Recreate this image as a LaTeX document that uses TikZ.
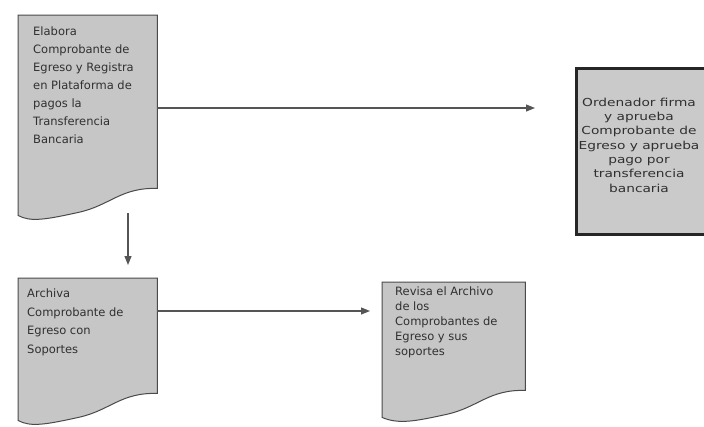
\documentclass[tikz,border=0pt]{standalone}
\usepackage{fontspec}
\setmainfont{DejaVu Sans}
\newfontfamily\boxfont[FakeStretch=1.25]{DejaVu Sans}
\usetikzlibrary{calc,arrows.meta}
\definecolor{docfill}{HTML}{C6C6C6}
\definecolor{boxfill}{HTML}{CACACA}
\definecolor{linegray}{HTML}{4A4A4A}
\definecolor{arrowgray}{HTML}{555555}
\definecolor{txtgray}{HTML}{303030}
\newcommand{\docoutline}[1]{%
  \draw[docline] (#1.north west) -- (#1.north east) -- (#1.south east)
    .. controls ($(#1.south east)+(-37,-1)$) and ($(#1.south east)+(-47,17)$) .. ($(#1.south east)+(-79,24)$)
    .. controls ($(#1.south east)+(-111,31)$) and ($(#1.south east)+(-127,34)$) .. ($(#1.south west)+(0,27)$)
    -- cycle;}
\begin{document}
\begin{tikzpicture}[x=1pt,y=-1pt,
  docgeom/.style={draw=none, rectangle, inner sep=0pt, anchor=north west},
  docline/.style={draw=linegray, fill=docfill, line width=1pt},
  doctext/.style={anchor=north west, inner sep=0pt, align=left, text=txtgray},
  arr/.style={draw=arrowgray, line width=1.1pt, -{Triangle[length=9pt,width=7pt]}},
  bigbox/.style={draw=black!85, fill=boxfill, line width=2.5pt, rectangle, anchor=north west, inner sep=0pt}]
\useasboundingbox (0,0) rectangle (704,426);
\clip (0,0) rectangle (704,426);
\fill[white] (0,0) rectangle (704,426);
% geometry of the documents
\node[docgeom, minimum width=139pt, minimum height=173pt] (d1) at (18,15) {};
\node[docgeom, minimum width=139pt, minimum height=115pt] (d3) at (18,278) {};
\node[docgeom, minimum width=143pt, minimum height=108pt] (d4) at (382,282) {};
\docoutline{d1}
\docoutline{d3}
\docoutline{d4}
% right box
\node[bigbox, minimum width=140pt, minimum height=166pt] (b2) at (575,67) {};
% texts
\node[doctext, font=\fontsize{11.5}{18}\selectfont] (d1t) at (33,27)
  {Elabora\\Comprobante de\\Egreso y Registra\\en Plataforma de\\pagos la\\Transferencia\\Bancaria};
\node[doctext, font=\fontsize{11.5}{18.5}\selectfont] (d3t) at (27,289)
  {Archiva\\Comprobante de\\Egreso con\\Soportes};
\node[doctext, font=\fontsize{11.5}{15}\selectfont] (d4t) at (395,287)
  {Revisa el Archivo\\de los\\Comprobantes de\\Egreso y sus\\soportes};
\node[inner sep=0pt, align=center, text=txtgray, font=\boxfont\fontsize{11}{14.3}\selectfont] (b2t) at (639,145)
  {Ordenador firma\\y aprueba\\Comprobante de\\Egreso y aprueba\\pago por\\transferencia\\bancaria};
% connectors
\draw[arr, shorten >=40pt] ([yshift=-93pt]d1.north east) coordinate (a1) -- (a1 -| b2.west);
\draw[arr, shorten <=25pt, shorten >=13pt] ([xshift=110pt]d1.south west) -- ([xshift=110pt]d3.north west);
\draw[arr, shorten >=12pt] ([yshift=-33pt]d3.north east) coordinate (a3) -- (a3 -| d4.west);
\end{tikzpicture}
\end{document}
